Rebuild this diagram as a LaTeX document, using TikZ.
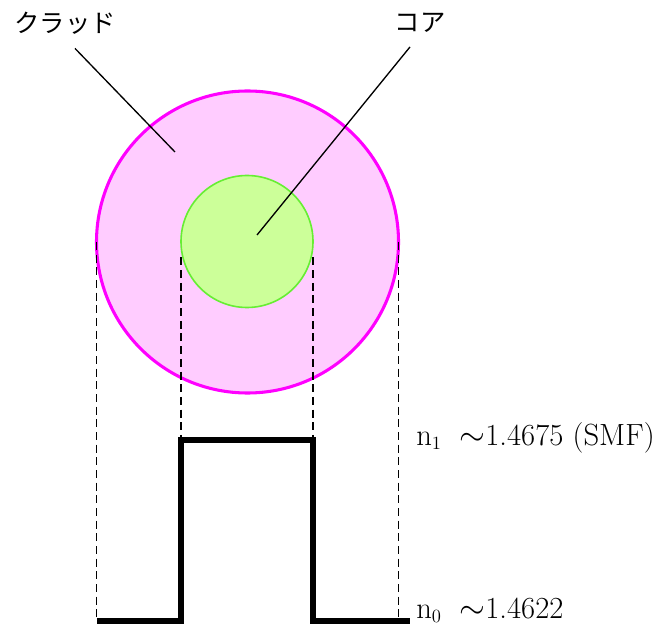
\documentclass[tikz,border=0pt]{standalone}
\usepackage{fontspec}
\newfontfamily\jpfont{Noto Sans CJK JP}
\usepackage{xcolor}
\definecolor{cladline}{HTML}{FF00FF}
\definecolor{cladfill}{HTML}{FFCCFF}
\definecolor{coreline}{HTML}{66EE33}
\definecolor{corefill}{HTML}{CCFF99}
\usetikzlibrary{positioning, calc}

\tikzset{
  jplabel/.style={font=\jpfont\fontsize{19}{22}\selectfont, inner sep=0pt},
  nlabel/.style={font=\fontsize{23}{26}\selectfont, anchor=base west, inner sep=0pt},
  guide/.style={dash pattern=on 6pt off 3.5pt, line width=1.3pt},
  profile/.style={line width=4.6pt, line join=miter},
}

\begin{document}
\begin{tikzpicture}[x=0.75pt, y=-0.75pt]
  \useasboundingbox (0,0) rectangle (667,641);

  % fibre cross-section
  \node[circle, fill=cladfill, draw=cladline, line width=2.3pt,
        minimum size=226.5pt, inner sep=0pt, outer sep=0pt] (clad) at (247.5,242) {};
  \node[circle, fill=corefill, draw=coreline, line width=1.2pt,
        minimum size=99pt, inner sep=0pt, outer sep=0pt] (core) at (247,241.5) {};

  % labels
  \node[jplabel] (cladlabel) at (65,23) {クラッド};
  \node[jplabel] (corelabel) at (420,23) {コア};
  \coordinate (cladtip) at (175,152);
  \coordinate (coretip) at (257,235);
  \draw[line width=1pt] ($(cladlabel.south)+(10,14)$) -- (cladtip);
  \draw[line width=1pt] ($(corelabel.south)+(-10,14)$) -- (coretip);

  % index profile
  \coordinate (p0) at (97,621);
  \coordinate (p1) at (181,621);
  \coordinate (p2) at (181,440);
  \coordinate (p3) at (313,440);
  \coordinate (p4) at (313,621);
  \coordinate (p5) at (410,621);
  \draw[profile] (p0) -- (p1) -- (p2) -- (p3) -- (p4) -- (p5);

  % guides
  \draw[guide] (clad.west) -- (clad.west |- p0);
  \draw[guide] (clad.east) -- (clad.east |- p5);
  \draw[guide] ($(core.west)+(0,16)$) -- (p2);
  \draw[guide] ($(core.east)+(0,16)$) -- (p3);

  \node[nlabel] (nhigh) at (416,445) {n\raisebox{-0.35ex}{\fontsize{14}{14}\selectfont 1}\ \ $\sim$1.4675 (SMF)};
  \node[nlabel] (nlow) at (416,618) {n\raisebox{-0.35ex}{\fontsize{14}{14}\selectfont 0}\ \ $\sim$1.4622};
\end{tikzpicture}
\end{document}
